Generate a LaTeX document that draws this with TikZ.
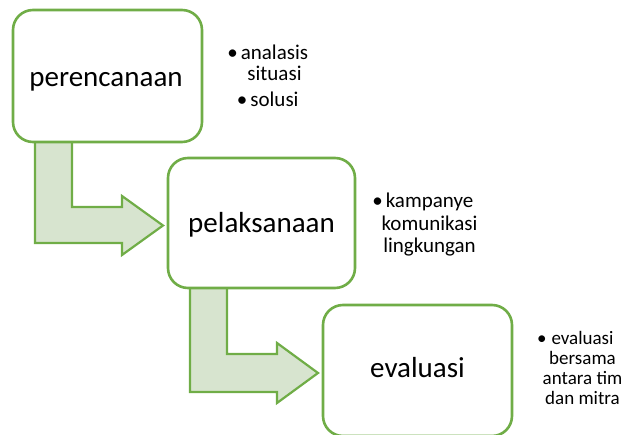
\documentclass[tikz,border=0pt]{standalone}
\usepackage{fontspec}
\setmainfont{Carlito}
\definecolor{grn}{HTML}{70AD47}
\definecolor{grnfill}{HTML}{D7E4CF}
\begin{document}
\begin{tikzpicture}[x=1pt,y=-1pt,
  stagebox/.style={draw=grn,line width=2.6pt,fill=white,rounded corners=20pt,inner sep=0pt},
  bentarrow/.style={draw=grn,line width=2.2pt,fill=grnfill,line join=miter},
  lbl/.style={font=\fontsize{29}{34}\selectfont,anchor=base,inner sep=0pt},
  bul/.style={font=\fontsize{21}{24}\selectfont,anchor=base,inner sep=0pt},
  bulsm/.style={font=\fontsize{19}{22}\selectfont,anchor=base,inner sep=0pt}]
\useasboundingbox (0,0) rectangle (624,435);
\begin{scope}
\clip (0,0) rectangle (624,435);
% bent arrows (behind boxes)
\draw[bentarrow] (35,140) -- (72,140) -- (72,207) -- (122,207) -- (122,196) -- (163,225.5) -- (122,255) -- (122,243) -- (35,243) -- cycle;
\draw[bentarrow] (190,287) -- (227,287) -- (227,354) -- (277,354) -- (277,343) -- (318,373) -- (277,403) -- (277,392) -- (190,392) -- cycle;
% boxes
\node[stagebox,minimum width=189pt,minimum height=132pt] (b1) at (107.5,76) {};
\node[stagebox,minimum width=187pt,minimum height=130pt] (b2) at (261.5,223) {};
\node[stagebox,minimum width=189pt,minimum height=131pt] (b3) at (417.5,370.5) {};
\end{scope}
% labels
\node[lbl] (l1) at (106,87) {perencanaan};
\node[lbl] (l2) at (261.5,233) {pelaksanaan};
\node[lbl] (l3) at (417.5,378) {evaluasi};
% bullet texts
\node[bul] (t1a) at (274.5,60) {\llap{•\hspace{3pt}}analasis};
\node[bul] (t1b) at (274.5,81) {situasi};
\node[bul] (t1c) at (274.5,107) {\llap{•\hspace{3pt}}solusi};
\node[bul] (t2a) at (429.5,207.5) {\llap{•\hspace{3pt}}kampanye};
\node[bul] (t2b) at (429.5,230.5) {komunikasi};
\node[bul] (t2c) at (429.5,252.5) {lingkungan};
\node[bulsm] (t3a) at (582.5,345) {\llap{•\hspace{5pt}}evaluasi};
\node[bulsm] (t3b) at (582.5,365) {bersama};
\node[bulsm] (t3c) at (582.5,385) {antara tim};
\node[bulsm] (t3d) at (582.5,405) {dan mitra};
\end{tikzpicture}
\end{document}
